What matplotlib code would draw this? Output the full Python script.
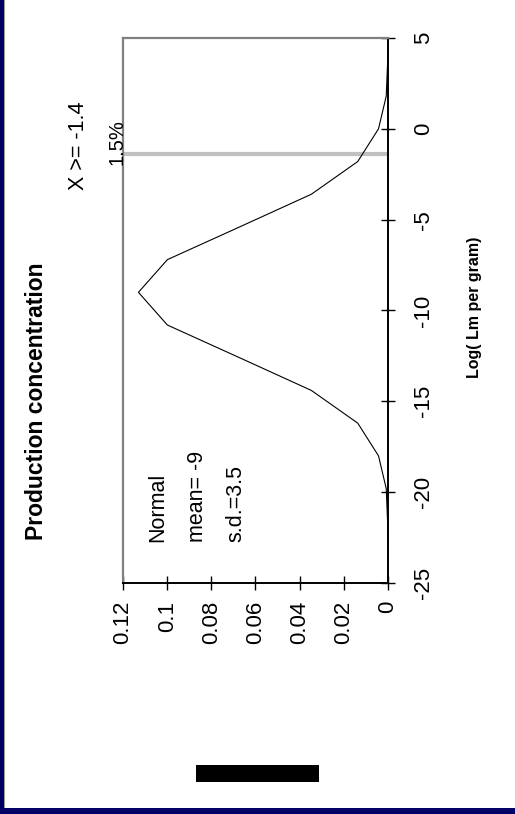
import numpy as np
import matplotlib
matplotlib.use("Agg")
import matplotlib.pyplot as plt
from matplotlib.patches import Rectangle

plt.rcParams['font.family'] = ['Liberation Sans', 'DejaVu Sans']

log_conc = [-23.4, -21.6, -19.8, -18.0, -16.2, -14.4, -12.6, -10.8, -9.0,
            -7.2, -5.4, -3.6, -1.8, 0.0, 1.8, 3.6, 5.0]
density = [0.00002, 0.0002, 0.0008, 0.0043, 0.0137, 0.0347, 0.0672, 0.0999, 0.113,
           0.0999, 0.0672, 0.0347, 0.0137, 0.0043, 0.0008, 0.0002, 0.00002]

x_ticks = [-25, -20, -15, -10, -5, 0, 5]
y_ticks = [0.12, 0.1, 0.08, 0.06, 0.04, 0.02, 0]
y_ticklabels = ["0.12", "0.1", "0.08", "0.06", "0.04", "0.02", "0"]

cutoff = -1.4
cutoff_label = "X >= -1.4"
pct_label = "1.5%"
dist_lines = ["Normal", "mean= -9", "s.d.=3.5"]

W, H = 515, 814
fig = plt.figure(figsize=(W / 100, H / 100), dpi=100)
fig.patch.set_facecolor("white")

# navy frame bits
navy = "#000066"
fig.add_artist(Rectangle((0, 0), 4 / W, 1, transform=fig.transFigure, color=navy, lw=0))
fig.add_artist(Rectangle((4 / W, 6 / H), 1 / W, 1, transform=fig.transFigure, color="#a0a090", lw=0))
fig.add_artist(Rectangle((0, 0), 1, 6 / H, transform=fig.transFigure, color=navy, lw=0))

# chart drawn rotated: data x on the vertical axis, density on the horizontal one
ax = fig.add_axes([123 / W, 1 - 583 / H, 265 / W, 545 / H])
ax.axhline(cutoff, color="#c0c0c0", lw=3, zorder=1)
ax.plot(density, log_conc, color="k", lw=0.8, zorder=2)
ax.set_xlim(0.12, 0)
ax.set_ylim(-25, 5)

ax.yaxis.tick_right()
ax.set_yticks(x_ticks)
ax.set_yticklabels([str(t) for t in x_ticks], rotation=90, va="center", ha="left")
ax.set_xticks(y_ticks)
ax.set_xticklabels(y_ticklabels, rotation=90, ha="center", va="top")
ax.tick_params(axis="both", direction="inout", length=10, width=1, color="k",
               labelsize=16)
ax.tick_params(axis="y", pad=13)
ax.tick_params(axis="x", pad=8)

for s in ("left", "top"):
    ax.spines[s].set_color("#808080")
    ax.spines[s].set_linewidth(1.6)
for s in ("right", "bottom"):
    ax.spines[s].set_color("k")
    ax.spines[s].set_linewidth(1.4)

for xf, txt in zip([0.132, 0.283, 0.426], dist_lines):
    ax.text(xf, 0.075, txt, transform=ax.transAxes, rotation=90,
            ha="center", va="bottom", fontsize=15.5)

fig.text(37 / W, 1 - 401 / H, "Production concentration", rotation=90,
         fontsize=16.5, weight="bold", ha="center", va="center")
fig.text(475 / W, 1 - 307 / H, "Log( Lm per gram)", rotation=90,
         fontsize=11.5, weight="bold", ha="center", va="center")
fig.text(79 / W, 1 - 146 / H, cutoff_label, rotation=90,
         fontsize=15.5, ha="center", va="center")
fig.text(117 / W, 1 - 142 / H, pct_label, rotation=90,
         fontsize=14.5, ha="center", va="center")

fig.add_artist(Rectangle((196 / W, 1 - 782 / H), 123 / W, 17 / H,
                         transform=fig.transFigure, color="k", lw=0))

fig.savefig("out.png", dpi=100)
